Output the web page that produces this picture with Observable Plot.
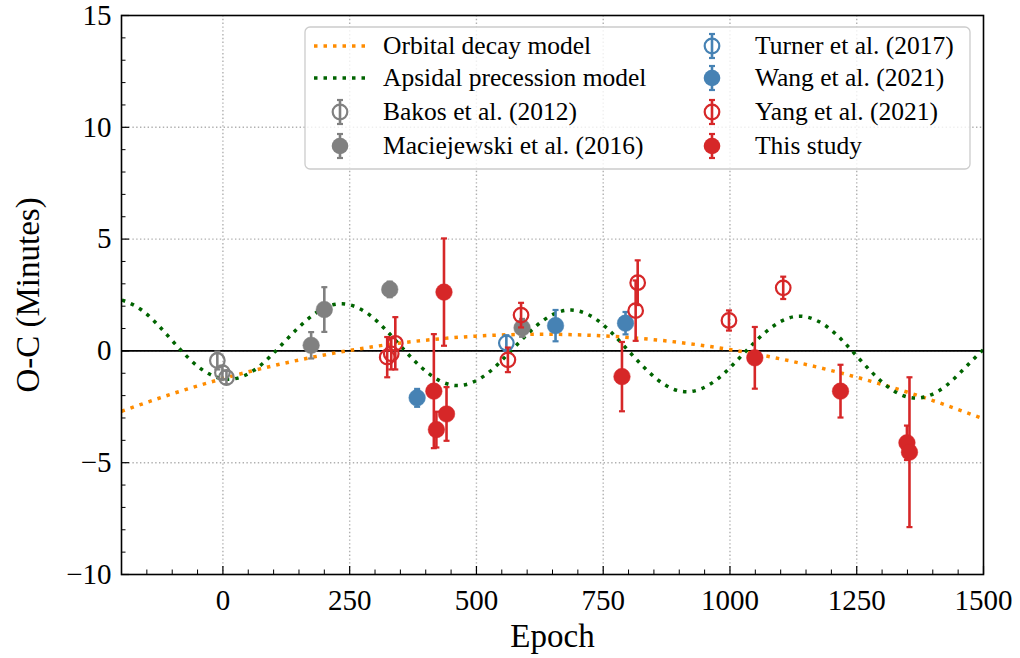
<!DOCTYPE html>
<html><head><meta charset="utf-8">
<script src="https://cdn.jsdelivr.net/npm/d3@7"></script>
<script src="https://cdn.jsdelivr.net/npm/@observablehq/plot@0.6"></script>
<style>body{margin:0;background:#fff;} #chart{width:1020px;height:658px;}</style>
</head><body><div id="chart"></div>
<script>
// ---------------- data ----------------
const decayEpoch = [-200,-100,0,100,200,300,400,500,600,700,800,900,1000,1100,1200,1300,1400,1500];
const decayOC    = [-2.70,-1.92,-1.24,-0.66,-0.18,0.20,0.48,0.66,0.74,0.72,0.60,0.38,0.06,-0.36,-0.88,-1.50,-2.22,-3.04];

const apsEpoch = [-217,-161,-104,-48,9,66,122,179,235,292,348,405,461,518,574,631,687,744,800,857,913,970,1026,1083,1139,1196,1252,1309,1365,1422,1478,1535];
const apsOC    = [2.40,1.84,0.56,-0.72,-1.27,-0.79,0.42,1.63,2.11,1.56,0.28,-1.00,-1.55,-1.07,0.14,1.35,1.83,1.28,0.00,-1.28,-1.83,-1.35,-0.14,1.07,1.55,1.00,-0.28,-1.56,-2.11,-1.63,-0.42,0.79];

const bakosEpoch = [-11, -1, 7];
const bakosOC    = [-0.43, -0.97, -1.19];
const bakosErr   = [0.40, 0.30, 0.30];

const maciejEpoch = [174, 200, 329, 590];
const maciejOC    = [0.25, 1.85, 2.75, 1.03];
const maciejErr   = [0.59, 1.00, 0.35, 0.40];

const turnerEpoch = [559];
const turnerOC    = [0.35];
const turnerErr   = [0.35];

const wangEpoch = [383, 656, 794];
const wangOC    = [-2.10, 1.13, 1.24];
const wangErr   = [0.40, 0.70, 0.50];

const yangEpoch = [324, 332, 340, 562, 588, 814, 818, 998, 1105];
const yangOC    = [-0.28, -0.13, 0.34, -0.40, 1.60, 1.80, 3.05, 1.36, 2.82];
const yangErr   = [0.90, 0.70, 1.17, 0.55, 0.55, 1.35, 1.00, 0.45, 0.50];

const thisEpoch = [416, 421, 436, 441, 787, 1049, 1218, 1349, 1354];
const thisOC    = [-1.80, -3.52, 2.63, -2.82, -1.15, -0.31, -1.80, -4.11, -4.53];
const thisErr   = [2.55, 0.80, 2.40, 1.20, 1.55, 1.38, 1.18, 0.77, 3.35];

const xTickLabels = [0, 250, 500, 750, 1000, 1250, 1500];
const yTickLabels = [-10, -5, 0, 5, 10, 15];
const modelNames = ["Orbital decay model", "Apsidal precession model"];
const seriesNames = ["Bakos et al. (2012)", "Maciejewski et al. (2016)", "Turner et al. (2017)", "Wang et al. (2021)", "Yang et al. (2021)", "This study"];

// ---------------- build ----------------
const FONT = "'Liberation Serif', 'DejaVu Serif', serif";
const W = 1020, H = 658, mL = 121, mR = 37, mT = 15, mB = 84;
const plotW = W - mL - mR, plotH = H - mT - mB;

const zip = (e, v, r) => e.map((d, i) => ({epoch: d, oc: v[i], err: r ? r[i] : 0}));
const decay = zip(decayEpoch, decayOC);
const aps = zip(apsEpoch, apsOC);

const GREY = "#808080", BLUE = "#4682b4", RED = "#d62728", ORANGE = "#ff8c00", GREEN = "#006400";
const series = [
  {name: seriesNames[0], data: zip(bakosEpoch, bakosOC, bakosErr), color: GREY, open: true},
  {name: seriesNames[1], data: zip(maciejEpoch, maciejOC, maciejErr), color: GREY, open: false},
  {name: seriesNames[2], data: zip(turnerEpoch, turnerOC, turnerErr), color: BLUE, open: true},
  {name: seriesNames[3], data: zip(wangEpoch, wangOC, wangErr), color: BLUE, open: false},
  {name: seriesNames[4], data: zip(yangEpoch, yangOC, yangErr), color: RED, open: true},
  {name: seriesNames[5], data: zip(thisEpoch, thisOC, thisErr), color: RED, open: false}
];

const capSymbol = {draw(ctx, size) { const w = Math.sqrt(size / Math.PI); ctx.moveTo(-w, 0); ctx.lineTo(w, 0); }};

const fmt = d => d < 0 ? "\u2212" + Math.abs(d) : String(d);
const xMinor = d3.range(-150, 1500, 50).filter(d => d % 250 !== 0);
const yMinor = d3.range(-9, 15, 1).filter(d => d % 5 !== 0);
const xGrid = xTickLabels.filter(d => d < 1500);
const yGrid = yTickLabels.filter(d => d > -10 && d < 15);

const seriesMarks = series.flatMap(s => [
  Plot.ruleX(s.data, {x: "epoch", y1: d => d.oc - d.err, y2: d => d.oc + d.err, stroke: s.color, strokeWidth: 2.6}),
  Plot.dot(s.data, {x: "epoch", y: d => d.oc - d.err, symbol: capSymbol, r: 3, stroke: s.color, strokeWidth: 2.2, fill: "none"}),
  Plot.dot(s.data, {x: "epoch", y: d => d.oc + d.err, symbol: capSymbol, r: 3, stroke: s.color, strokeWidth: 2.2, fill: "none"}),
  s.open
    ? Plot.dot(s.data, {x: "epoch", y: "oc", r: 7.3, stroke: s.color, strokeWidth: 2.2, fill: "none"})
    : Plot.dot(s.data, {x: "epoch", y: "oc", r: 8.3, fill: s.color, stroke: s.color, strokeWidth: 0.5})
]);

const dotted = {strokeWidth: 3.5, strokeDasharray: "3.5,6", strokeLinecap: "butt", strokeLinejoin: "miter", curve: "natural", clip: true};

const chart = Plot.plot({
  width: W, height: H,
  marginLeft: mL, marginRight: mR, marginTop: mT, marginBottom: mB,
  x: {domain: [-200, 1500]},
  y: {domain: [-10, 15]},
  style: {fontFamily: FONT, background: "white", color: "black", overflow: "visible"},
  marks: [
    Plot.gridX(xGrid, {stroke: "#b0b0b0", strokeOpacity: 1, strokeWidth: 1.4, strokeDasharray: "1.4,2.4"}),
    Plot.gridY(yGrid, {stroke: "#b0b0b0", strokeOpacity: 1, strokeWidth: 1.4, strokeDasharray: "1.4,2.4"}),
    Plot.ruleY([0], {stroke: "black", strokeWidth: 1.6}),
    Plot.line(decay, {x: "epoch", y: "oc", stroke: ORANGE, ...dotted}),
    Plot.line(aps, {x: "epoch", y: "oc", stroke: GREEN, ...dotted}),
    ...seriesMarks,
    Plot.ruleX(xTickLabels, {insetTop: plotH - 8, stroke: "black", strokeWidth: 1.2}),
    Plot.ruleX(xMinor, {insetTop: plotH - 4.5, stroke: "black", strokeWidth: 1}),
    Plot.ruleY(yTickLabels, {insetRight: plotW - 8, stroke: "black", strokeWidth: 1.2}),
    Plot.ruleY(yMinor, {insetRight: plotW - 4.5, stroke: "black", strokeWidth: 1}),
    Plot.axisX(xTickLabels, {tickSize: 0, tickPadding: 15, fontSize: 29, tickFormat: fmt, label: null}),
    Plot.axisY(yTickLabels, {tickSize: 0, tickPadding: 10, fontSize: 29, tickFormat: fmt, label: null}),
    Plot.text(["Epoch"], {frameAnchor: "bottom", dy: 62, fontSize: 33, textAnchor: "middle", lineAnchor: "middle"}),
    Plot.text(["O-C (Minutes)"], {frameAnchor: "left", dx: -93, rotate: -90, fontSize: 33, textAnchor: "middle", lineAnchor: "middle"}),
    Plot.frame({stroke: "black", strokeWidth: 1.6})
  ]
});
document.getElementById("chart").appendChild(chart);

// ---------------- legend ----------------
const svg = d3.select(chart);
const lg = svg.append("g").attr("font-family", FONT).attr("font-size", 25.5).attr("fill", "black").attr("text-anchor", "start");
lg.append("rect").attr("x", 305).attr("y", 27).attr("width", 665).attr("height", 142).attr("rx", 5)
  .attr("fill", "white").attr("fill-opacity", 0.8).attr("stroke", "#cccccc").attr("stroke-width", 1.3);
const rowY = [46, 78, 112, 146];
const col1Text = 383, col2Text = 755, col1Mark = 340, col2Mark = 712;
const modelColors = [ORANGE, GREEN];
modelNames.forEach((name, i) => {
  lg.append("line").attr("x1", 314).attr("x2", 366).attr("y1", rowY[i]).attr("y2", rowY[i])
    .attr("stroke", modelColors[i]).attr("stroke-width", 3.5).attr("stroke-dasharray", "3.5,6").attr("stroke-linecap", "butt");
  lg.append("text").attr("x", col1Text).attr("y", rowY[i]).attr("dy", "0.33em").attr("text-anchor", "start").text(name);
});
series.forEach((s, i) => {
  const k = i + 2;
  const col = k < 4 ? 0 : 1;
  const row = k % 4;
  const cx = col ? col2Mark : col1Mark, cy = rowY[row];
  lg.append("line").attr("x1", cx).attr("x2", cx).attr("y1", cy - 12).attr("y2", cy + 12).attr("stroke", s.color).attr("stroke-width", 2.6);
  [-12, 12].forEach(o => lg.append("line").attr("x1", cx - 3).attr("x2", cx + 3).attr("y1", cy + o).attr("y2", cy + o).attr("stroke", s.color).attr("stroke-width", 2.2));
  if (s.open) lg.append("circle").attr("cx", cx).attr("cy", cy).attr("r", 7.3).attr("fill", "none").attr("stroke", s.color).attr("stroke-width", 2.2);
  else lg.append("circle").attr("cx", cx).attr("cy", cy).attr("r", 8.3).attr("fill", s.color);
  lg.append("text").attr("x", col ? col2Text : col1Text).attr("y", cy).attr("dy", "0.33em").attr("text-anchor", "start").text(s.name);
});
</script></body></html>
